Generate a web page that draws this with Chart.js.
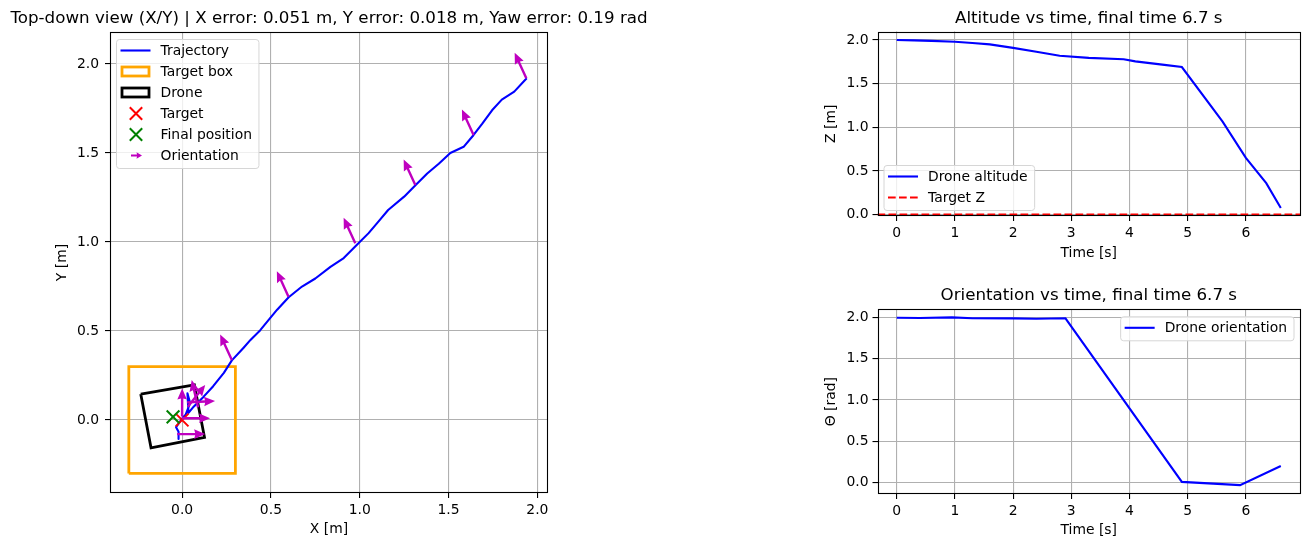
<!DOCTYPE html>
<html>
<head>
<meta charset="utf-8">
<script src="https://cdn.jsdelivr.net/npm/chart.js@4.4.0/dist/chart.umd.min.js"></script>
<style>
  html, body { margin: 0; padding: 0; background: #fff; }
  body { width: 1309px; height: 547px; position: relative; overflow: hidden; }
  .panel { position: absolute; }
</style>
</head>
<body>
<div class="panel" style="left:0;top:0;width:660px;height:547px"><canvas id="chart-xy"></canvas></div>
<div class="panel" style="left:780px;top:0;width:529px;height:270px"><canvas id="chart-alt"></canvas></div>
<div class="panel" style="left:780px;top:278px;width:529px;height:269px"><canvas id="chart-yaw"></canvas></div>

<script>
'use strict';

/* ── Data ── */
const trajX = [1.94, 1.87, 1.80, 1.745, 1.69, 1.64, 1.585, 1.51, 1.445, 1.38,
               1.315, 1.25, 1.16, 1.105, 1.05, 0.99, 0.91, 0.835, 0.75, 0.675,
               0.60, 0.535, 0.485, 0.44, 0.385, 0.345, 0.28, 0.235, 0.175, 0.12,
               0.065, 0.036, 0.03, 0.045, 0.02, 0.005, -0.02, -0.034, -0.02, -0.02];
const trajY = [1.92, 1.845, 1.80, 1.74, 1.665, 1.60, 1.535, 1.50, 1.44, 1.385,
               1.32, 1.255, 1.18, 1.115, 1.05, 0.99, 0.91, 0.86, 0.795, 0.75,
               0.69, 0.62, 0.56, 0.505, 0.45, 0.405, 0.335, 0.265, 0.19, 0.13,
               0.075, 0.04, 0.15, 0.095, 0.03, 0.015, -0.02, -0.04, -0.066, -0.107];

const targetBoxX = [-0.3, 0.3, 0.3, -0.3, -0.3];
const targetBoxY = [-0.3, -0.3, 0.3, 0.3, -0.3];
const droneBoxX  = [-0.233, 0.069, 0.126, -0.175, -0.233];
const droneBoxY  = [0.146, 0.197, -0.097, -0.156, 0.146];

const targetXY = [0.0, 0.0];
const finalXY  = [-0.051, 0.018];

const arrowX   = [1.938, 1.641, 1.313, 0.975, 0.599, 0.280, 0.09, 0.0, 0.032, 0.028, 0.0, -0.028];
const arrowY   = [1.920, 1.601, 1.320, 0.993, 0.693, 0.337, 0.071, 0.02, 0.074, 0.099, 0.01, -0.079];
const arrowYaw = [2.0, 2.0, 2.0, 2.0, 2.0, 2.0, 1.8, 1.57, 0.9, 0.05, 0.0, 0.0];

const altT = [0, 0.3, 0.6, 1.0, 1.3, 1.6, 2.0, 2.4, 2.8, 3.3, 3.9, 4.1, 4.6, 4.9, 5.6, 6.0, 6.35, 6.6];
const altZ = [2.0, 1.995, 1.99, 1.98, 1.965, 1.95, 1.91, 1.865, 1.82, 1.795, 1.78, 1.755, 1.715, 1.69, 1.065, 0.65, 0.36, 0.075];
const targetZ = 0.0;

const yawT     = [0, 0.4, 0.95, 1.3, 2.0, 2.4, 2.9, 4.9, 5.9, 6.6];
const yawTheta = [2.0, 1.997, 2.004, 1.993, 1.992, 1.988, 1.993, 0.005, -0.035, 0.198];

const xyTicks   = [0.0, 0.5, 1.0, 1.5, 2.0];
const timeTicks = [0, 1, 2, 3, 4, 5, 6];
const valTicks  = [0.0, 0.5, 1.0, 1.5, 2.0];

/* ── Shared style ── */
Chart.defaults.font.family = '"DejaVu Sans", sans-serif';
Chart.defaults.color = '#000';
Chart.defaults.animation = false;

const FS = 13.9;
const pts = (xs, ys) => xs.map((x, i) => ({ x, y: ys[i] }));

function drawArrow(ctx, x, y, ang, len, w, hw, hl, hal) {
  ctx.save();
  ctx.translate(x, y);
  ctx.rotate(ang);
  ctx.beginPath();
  ctx.moveTo(0, -w / 2);
  ctx.lineTo(len - hal, -w / 2);
  ctx.lineTo(len - hl, -hw);
  ctx.lineTo(len, 0);
  ctx.lineTo(len - hl, hw);
  ctx.lineTo(len - hal, w / 2);
  ctx.lineTo(0, w / 2);
  ctx.closePath();
  ctx.fill();
  ctx.restore();
}

function drawCross(ctx, x, y, r, color, lw) {
  ctx.save();
  ctx.strokeStyle = color;
  ctx.lineWidth = lw;
  ctx.beginPath();
  ctx.moveTo(x - r, y - r); ctx.lineTo(x + r, y + r);
  ctx.moveTo(x - r, y + r); ctx.lineTo(x + r, y - r);
  ctx.stroke();
  ctx.restore();
}

/* quiver arrows at each point of datasets that carry yaws */
const quiverPlugin = {
  id: 'quiver',
  afterDatasetsDraw(chart) {
    const { ctx, chartArea: a } = chart;
    chart.data.datasets.forEach((ds, di) => {
      if (!ds.yaws) return;
      const meta = chart.getDatasetMeta(di);
      ctx.save();
      ctx.beginPath();
      ctx.rect(a.left, a.top, a.right - a.left, a.bottom - a.top);
      ctx.clip();
      ctx.fillStyle = ds.borderColor;
      meta.data.forEach((p, i) => drawArrow(ctx, p.x, p.y, -ds.yaws[i], 28, 2.4, 4.8, 11, 10));
      ctx.restore();
    });
  }
};

/* full black frame round the axes + title centred over them (no squeezing) */
const framePlugin = {
  id: 'frame',
  afterDraw(chart, args, opts) {
    const { ctx, chartArea: a } = chart;
    ctx.save();
    ctx.strokeStyle = '#000';
    ctx.lineWidth = 1.1;
    ctx.strokeRect(Math.round(a.left) + 0.5, Math.round(a.top) + 0.5,
                   Math.round(a.right - a.left) - 1, Math.round(a.bottom - a.top) - 1);
    if (opts && opts.title) {
      ctx.font = '16.7px "DejaVu Sans"';
      ctx.fillStyle = '#000';
      ctx.textAlign = 'center';
      ctx.textBaseline = 'middle';
      ctx.fillText(opts.title, (a.left + a.right) / 2, opts.titleY);
    }
    ctx.restore();
  }
};

/* matplotlib-like legend box inside the axes */
const boxLegendPlugin = {
  id: 'boxLegend',
  afterDraw(chart, args, opts) {
    if (!opts || !opts.loc) return;
    const { ctx, chartArea: a } = chart;
    const items = chart.data.datasets.filter(d => d.legendKind);
    ctx.save();
    ctx.font = FS + 'px "DejaVu Sans"';
    const textW = Math.max(...items.map(d => ctx.measureText(d.label).width));
    const w = 44.5 + textW + 6.5;
    const h = (items.length - 1) * 21 + 24;
    const x = opts.loc.includes('left') ? a.left + 6 : a.right - 6.5 - w;
    const y = opts.loc.includes('upper') ? a.top + 7 : a.bottom - 6 - h;

    ctx.beginPath();
    ctx.roundRect(x + 0.5, y + 0.5, w, h, 3);
    ctx.fillStyle = 'rgba(255,255,255,0.8)';
    ctx.fill();
    ctx.strokeStyle = '#d6d6d6';
    ctx.lineWidth = 1;
    ctx.stroke();

    items.forEach((d, i) => {
      const cy = y + 11.5 + i * 21;
      const hx = x + 4.5;
      const col = d.borderColor;
      ctx.save();
      if (d.legendKind === 'line' || d.legendKind === 'dash') {
        ctx.strokeStyle = col;
        ctx.lineWidth = 2.1;
        if (d.legendKind === 'dash') ctx.setLineDash([7.7, 3.3]);
        ctx.beginPath(); ctx.moveTo(hx, cy); ctx.lineTo(hx + 30, cy); ctx.stroke();
      } else if (d.legendKind === 'rect') {
        ctx.strokeStyle = col;
        ctx.lineWidth = 2.8;
        ctx.strokeRect(hx + 1.5, cy - 4.5, 27, 9);
      } else if (d.legendKind === 'x') {
        drawCross(ctx, hx + 15.5, cy, 6.2, col, 2);
      } else if (d.legendKind === 'arrow') {
        ctx.fillStyle = col;
        drawArrow(ctx, hx + 10.5, cy, 0, 11, 1.8, 3.2, 5.5, 5);
      }
      ctx.restore();
      ctx.fillStyle = '#000';
      ctx.textBaseline = 'middle';
      ctx.textAlign = 'left';
      ctx.fillText(d.label, x + 44.5, cy + 0.5);
    });
    ctx.restore();
  }
};

Chart.register(quiverPlugin, framePlugin, boxLegendPlugin);

/* axis helpers */
function axis(opts) {
  return {
    type: 'linear',
    min: opts.min,
    max: opts.max,
    afterBuildTicks: s => { s.ticks = opts.ticks.map(v => ({ value: v })); },
    afterFit: s => {
      if (opts.size.w) s.width = opts.size.w;
      if (opts.size.h) s.height = opts.size.h;
      s.paddingLeft = 0; s.paddingRight = 0; s.paddingTop = 0; s.paddingBottom = 0;
    },
    ticks: {
      autoSkip: false,
      maxRotation: 0,
      padding: opts.pad,
      font: { size: FS },
      color: '#000',
      callback: opts.fmt,
    },
    grid: { color: '#b0b0b0', lineWidth: 1.1, tickColor: '#000', tickLength: 5, tickWidth: 1.1, drawTicks: true },
    border: { display: false },
    title: { display: true, text: opts.title, font: { size: FS }, color: '#000', padding: opts.titlePad },
  };
}

const fmt1 = v => v.toFixed(1);
const fmt0 = v => String(v);

/* ── Top-down X/Y view ── */
new Chart(document.getElementById('chart-xy'), {
  type: 'scatter',
  data: {
    datasets: [
      { label: 'Trajectory', legendKind: 'line', data: pts(trajX, trajY), showLine: true,
        borderColor: '#0000ff', borderWidth: 2.1, pointRadius: 0, borderJoinStyle: 'round', order: 3 },
      { label: 'Target box', legendKind: 'rect', data: pts(targetBoxX, targetBoxY), showLine: true,
        borderColor: '#ffa500', borderWidth: 2.8, pointRadius: 0, order: 5 },
      { label: 'Drone', legendKind: 'rect', data: pts(droneBoxX, droneBoxY), showLine: true,
        borderColor: '#000000', borderWidth: 2.8, pointRadius: 0, order: 4 },
      { label: 'Target', legendKind: 'x', data: [{ x: targetXY[0], y: targetXY[1] }],
        pointStyle: 'crossRot', pointRadius: 9, borderColor: '#ff0000', borderWidth: 2, order: 2 },
      { label: 'Final position', legendKind: 'x', data: [{ x: finalXY[0], y: finalXY[1] }],
        pointStyle: 'crossRot', pointRadius: 9, borderColor: '#008000', borderWidth: 2, order: 1 },
      { label: 'Orientation', legendKind: 'arrow', data: pts(arrowX, arrowY), yaws: arrowYaw,
        borderColor: '#bf00bf', backgroundColor: '#bf00bf', pointRadius: 0, order: 0 },
    ],
  },
  options: {
    responsive: true,
    maintainAspectRatio: false,
    events: [],
    layout: { padding: { left: 0, right: 112, top: 32, bottom: 0 } },
    plugins: {
      legend: { display: false },
      tooltip: { enabled: false },
      frame: { title: 'Top-down view (X/Y) | X error: 0.051 m, Y error: 0.018 m, Yaw error: 0.19 rad', titleY: 18.2 },
      boxLegend: { loc: 'upper left' },
    },
    scales: {
      x: axis({ min: -0.406, max: 2.06, ticks: xyTicks, fmt: fmt1, pad: 4, size: { h: 54 },
                title: 'X [m]', titlePad: { top: 0, bottom: 9.2 } }),
      y: axis({ min: -0.41, max: 2.18, ticks: xyTicks, fmt: fmt1, pad: 6, size: { w: 110 },
                title: 'Y [m]', titlePad: { top: 54.4, bottom: 0 } }),
    },
  },
});

/* ── Altitude vs time ── */
new Chart(document.getElementById('chart-alt'), {
  type: 'scatter',
  data: {
    datasets: [
      { label: 'Drone altitude', legendKind: 'line', data: pts(altT, altZ), showLine: true,
        borderColor: '#0000ff', borderWidth: 2.1, pointRadius: 0, order: 1 },
      { label: 'Target Z', legendKind: 'dash', data: [{ x: -0.33, y: targetZ }, { x: 6.93, y: targetZ }],
        showLine: true, borderColor: '#ff0000', borderWidth: 2.1, borderDash: [7.7, 3.3], pointRadius: 0, order: 0 },
    ],
  },
  options: {
    responsive: true,
    maintainAspectRatio: false,
    events: [],
    layout: { padding: { left: 0, right: 9, top: 31.6, bottom: 0 } },
    plugins: {
      legend: { display: false },
      tooltip: { enabled: false },
      frame: { title: 'Altitude vs time, final time 6.7 s', titleY: 18.8 },
      boxLegend: { loc: 'lower left' },
    },
    scales: {
      x: axis({ min: -0.33, max: 6.93, ticks: timeTicks, fmt: fmt0, pad: 4, size: { h: 54 },
                title: 'Time [s]', titlePad: { top: 0, bottom: 8.7 } }),
      y: axis({ min: -0.016, max: 2.096, ticks: valTicks, fmt: fmt1, pad: 4, size: { w: 97.5 },
                title: 'Z [m]', titlePad: { top: 43, bottom: 0 } }),
    },
  },
});

/* ── Orientation vs time ── */
new Chart(document.getElementById('chart-yaw'), {
  type: 'scatter',
  data: {
    datasets: [
      { label: 'Drone orientation', legendKind: 'line', data: pts(yawT, yawTheta), showLine: true,
        borderColor: '#0000ff', borderWidth: 2.1, pointRadius: 0 },
    ],
  },
  options: {
    responsive: true,
    maintainAspectRatio: false,
    events: [],
    layout: { padding: { left: 0, right: 9, top: 31.3, bottom: 0 } },
    plugins: {
      legend: { display: false },
      tooltip: { enabled: false },
      frame: { title: 'Orientation vs time, final time 6.7 s', titleY: 17.8 },
      boxLegend: { loc: 'upper right' },
    },
    scales: {
      x: axis({ min: -0.33, max: 6.93, ticks: timeTicks, fmt: fmt0, pad: 4, size: { h: 53 },
                title: 'Time [s]', titlePad: { top: 0, bottom: 8.7 } }),
      y: axis({ min: -0.1425, max: 2.1025, ticks: valTicks, fmt: fmt1, pad: 4, size: { w: 97.5 },
                title: 'Θ [rad]', titlePad: { top: 43, bottom: 0 } }),
    },
  },
});
</script>
</body>
</html>
